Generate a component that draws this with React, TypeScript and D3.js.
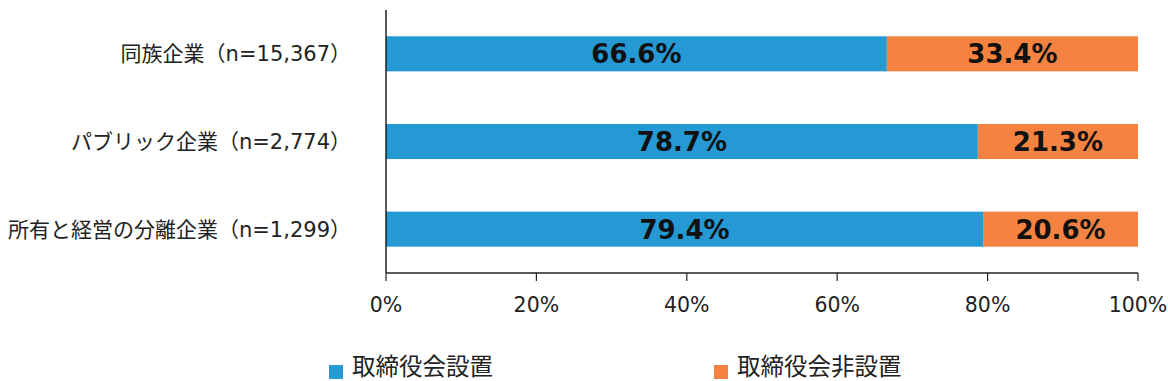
import React from "react";
import * as d3 from "d3";

const categories = ["同族企業（n=15,367）", "パブリック企業（n=2,774）", "所有と経営の分離企業（n=1,299）"];
const seriesNames = ["取締役会設置", "取締役会非設置"];
const withBoard = [66.6, 78.7, 79.4];
const withoutBoard = [33.4, 21.3, 20.6];
const colors = ["#2499D3", "#F48342"];
const ticks = [0, 20, 40, 60, 80, 100];

const W = 1168, H = 381;
const latin = "DejaVu Sans, Noto Sans CJK JP, sans-serif";
const cjk = "Noto Sans CJK JP, DejaVu Sans, sans-serif";

export default function App() {
  const x = d3.scaleLinear().domain([0, 100]).range([386, 1138]);
  const y = d3.scaleBand<string>().domain(categories).range([10, 273]).paddingInner(0.6).paddingOuter(0.3);
  const series = [withBoard, withoutBoard];
  const stacked = categories.map((c, i) => {
    let acc = 0;
    return series.map((s, k) => {
      const x0 = acc;
      acc += s[i];
      return { c, k, x0, x1: acc, v: s[i] };
    });
  });
  return (
    <svg width={W} height={H} style={{ position: "absolute", left: 0, top: 0, background: "#fff" }}>
      {stacked.flat().map((d, i) => (
        <g key={i}>
          <rect x={x(d.x0)} y={y(d.c)} width={x(d.x1) - x(d.x0)} height={y.bandwidth()} fill={colors[d.k]} />
          <text x={(x(d.x0) + x(d.x1)) / 2} y={(y(d.c) as number) + y.bandwidth() / 2} dy="0.36em" textAnchor="middle"
            style={{ fontFamily: latin, fontWeight: "bold", fontSize: 26 }} fill="#111">{d.v.toFixed(1)}%</text>
        </g>
      ))}
      {categories.map((c) => (
        <text key={c} x={351} y={(y(c) as number) + y.bandwidth() / 2} dy="0.35em" textAnchor="end"
          style={{ fontFamily: latin, fontSize: 21 }} fill="#222">{c}</text>
      ))}
      <line x1={386} x2={386} y1={10} y2={273} stroke="#222" strokeWidth={1.5} />
      <line x1={386} x2={1138} y1={273} y2={273} stroke="#222" strokeWidth={1.5} />
      {ticks.map((t) => (
        <g key={t}>
          <line x1={x(t)} x2={x(t)} y1={273} y2={281} stroke="#222" strokeWidth={1.2} />
          <text x={x(t)} y={305} dy="0.35em" textAnchor="middle" style={{ fontFamily: latin, fontSize: 20.5 }} fill="#222">{t}%</text>
        </g>
      ))}
      {seriesNames.map((n, k) => {
        const lx = [329, 714][k];
        return (
          <g key={n}>
            <rect x={lx} y={365} width={14} height={14} fill={colors[k]} />
            <text x={lx + 23} y={367} dy="0.35em" style={{ fontFamily: cjk, fontSize: 23.5 }} fill="#222">{n}</text>
          </g>
        );
      })}
    </svg>
  );
}
